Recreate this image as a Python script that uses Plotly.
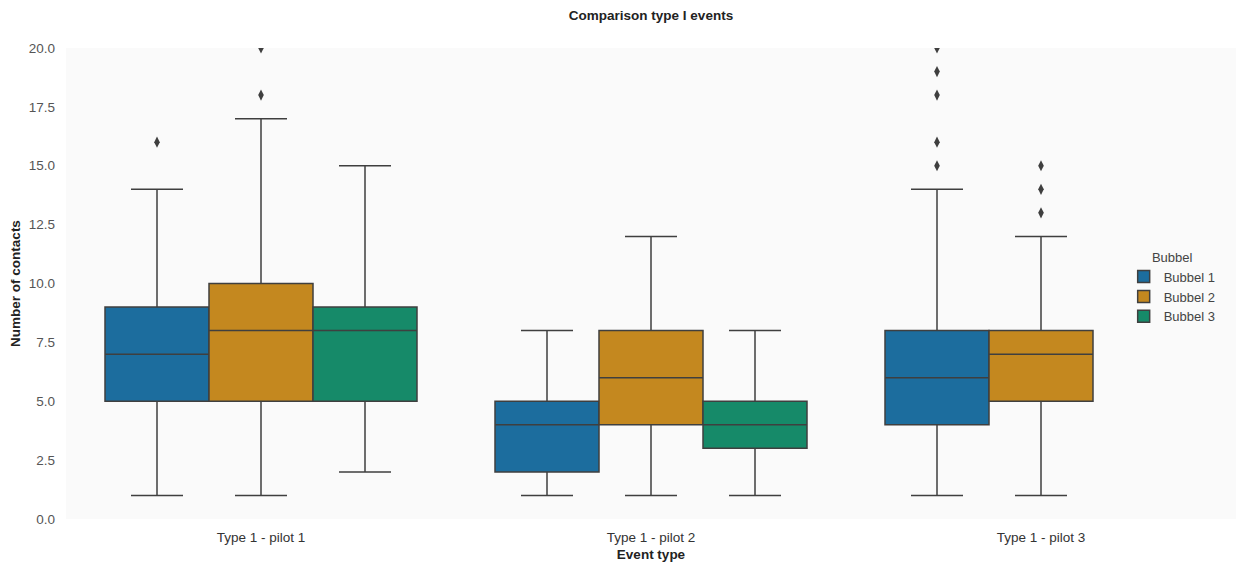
import plotly.graph_objects as go

categories = ["Type 1 - pilot 1", "Type 1 - pilot 2", "Type 1 - pilot 3"]
series = ["Bubbel 1", "Bubbel 2", "Bubbel 3"]
colors = ["#1c6d9e", "#c4881f", "#168a69"]

# box statistics per series, one entry per category (None = no data)
lower = {"Bubbel 1": [1, 1, 1], "Bubbel 2": [1, 1, 1], "Bubbel 3": [2, 1, None]}
q1 = {"Bubbel 1": [5, 2, 4], "Bubbel 2": [5, 4, 5], "Bubbel 3": [5, 3, None]}
median = {"Bubbel 1": [7, 4, 6], "Bubbel 2": [8, 6, 7], "Bubbel 3": [8, 4, None]}
q3 = {"Bubbel 1": [9, 5, 8], "Bubbel 2": [10, 8, 8], "Bubbel 3": [9, 5, None]}
upper = {"Bubbel 1": [14, 8, 14], "Bubbel 2": [17, 12, 12], "Bubbel 3": [15, 8, None]}
outliers = {
    "Bubbel 1": [[16], [], [15, 16, 18, 19, 20]],
    "Bubbel 2": [[18, 20], [], [13, 14, 15]],
    "Bubbel 3": [[], [], []],
}
y_ticks = [0, 2.5, 5, 7.5, 10, 12.5, 15, 17.5, 20]

edge = "#3f3f3f"
group_width = 0.8
bw = group_width / len(series)

fig = go.Figure()
for si, s in enumerate(series):
    offset = (si - (len(series) - 1) / 2) * bw
    xs, a, b, c, d, e = [], [], [], [], [], []
    for ci in range(len(categories)):
        if median[s][ci] is None:
            continue
        xs.append(ci + offset)
        a.append(lower[s][ci]); b.append(q1[s][ci]); c.append(median[s][ci])
        d.append(q3[s][ci]); e.append(upper[s][ci])
    fig.add_trace(go.Box(
        x=xs, q1=b, median=c, q3=d, lowerfence=a, upperfence=e,
        name=s, legendgroup=s, width=bw, whiskerwidth=0.5,
        fillcolor=colors[si], line=dict(color=edge, width=1.5),
        boxpoints=False, hoverinfo="y",
    ))
    ox, oy = [], []
    for ci in range(len(categories)):
        for v in outliers[s][ci]:
            ox.append(ci + offset)
            oy.append(v)
    if ox:
        fig.add_trace(go.Scatter(
            x=ox, y=oy, mode="markers", legendgroup=s, showlegend=False,
            marker=dict(symbol="diamond-tall", size=8, color=edge,
                        line=dict(width=0)),
        ))

fig.update_layout(
    width=1236, height=562,
    margin=dict(l=66, r=0, t=48, b=43, autoexpand=False),
    paper_bgcolor="white", plot_bgcolor="#fafafa",
    font=dict(family="Liberation Sans, Arial, sans-serif", size=13.5, color="#444"),
    boxmode="overlay",
    title=dict(text="<b>Comparison type I events</b>", x=0.5, xref="paper",
               xanchor="center", y=1 - 15 / 562, yref="container", yanchor="middle",
               font=dict(size=13.5, color="#222")),
    xaxis=dict(range=[-0.5, len(categories) - 0.5], tickmode="array",
               tickvals=list(range(len(categories))), ticktext=categories,
               showgrid=False, zeroline=False, showline=False, ticks="",
               automargin=False, ticklabelstandoff=8,
               tickfont=dict(size=13.5, color="#333"),
               title=dict(text="<b>Event type</b>", standoff=7,
                          font=dict(size=13.5, color="#222"))),
    yaxis=dict(range=[0, 20], tickmode="array", tickvals=y_ticks,
               ticktext=[f"{t:.1f}" for t in y_ticks],
               showgrid=False, zeroline=False, showline=False, ticks="",
               automargin=False, ticklabelstandoff=10,
               tickfont=dict(size=13.5, color="#555"),
               title=dict(text="<b>Number of contacts</b>", standoff=4,
                          font=dict(size=13.5, color="#222"))),
    legend=dict(x=0.904, y=0.49, xanchor="left", yanchor="middle",
                bgcolor="rgba(0,0,0,0)", tracegroupgap=0, itemwidth=30,
                title=dict(text="Bubbel", side="top center",
                           font=dict(size=13, color="#444")),
                font=dict(size=13, color="#444"), traceorder="normal"),
    showlegend=True,
)

fig.write_html("out.html", config={"displayModeBar": False},
               post_script="document.body.style.margin='0';")
